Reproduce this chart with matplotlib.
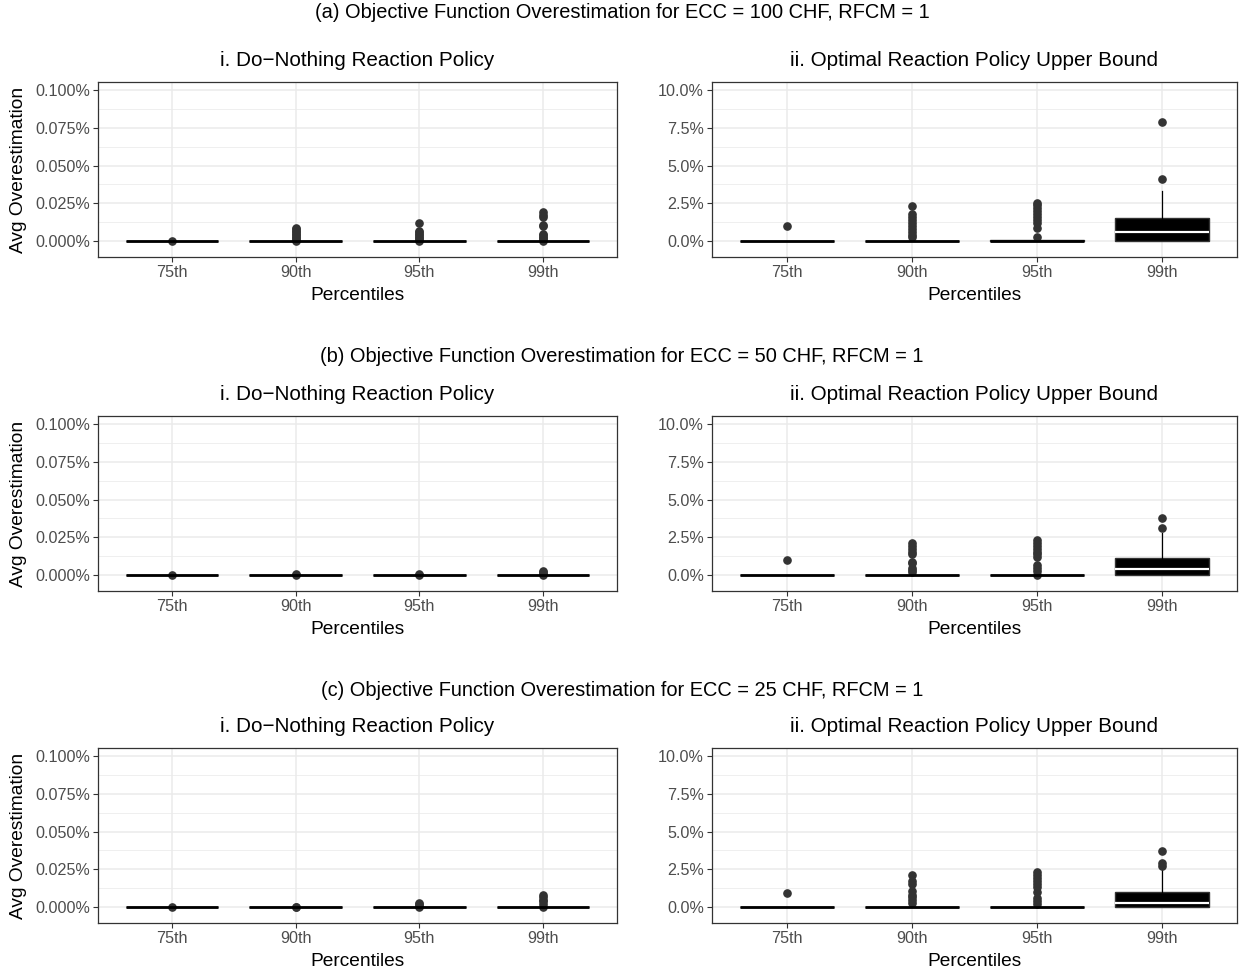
import matplotlib
matplotlib.use("Agg")
import matplotlib.pyplot as plt
import matplotlib.ticker as mticker

plt.rcParams['font.family'] = ['Liberation Sans', 'DejaVu Sans']

categories = ['75th', '90th', '95th', '99th']
row_titles = ['(a) Objective Function Overestimation for ECC = 100 CHF, RFCM = 1',
              '(b) Objective Function Overestimation for ECC = 50 CHF, RFCM = 1',
              '(c) Objective Function Overestimation for ECC = 25 CHF, RFCM = 1']
left_title = 'i. Do\u2212Nothing Reaction Policy'
right_title = 'ii. Optimal Reaction Policy Upper Bound'

# box stats in percent: q1 = 0 and lower whisker = 0 everywhere
# --- do-nothing (left) panels: boxes all collapsed at zero
dn_q3 = [[0, 0, 0, 0], [0, 0, 0, 0], [0, 0, 0, 0]]
dn_fliers_a = [[0.0], [0.0, 0.001, 0.002, 0.003, 0.004, 0.005, 0.006, 0.007, 0.008, 0.009],
               [0.0, 0.001, 0.002, 0.003, 0.004, 0.005, 0.006, 0.007, 0.012],
               [0.0, 0.001, 0.002, 0.003, 0.004, 0.005, 0.010, 0.011, 0.016, 0.017, 0.019]]
dn_fliers_b = [[0.0], [0.0, 0.0005], [0.0, 0.0005], [0.0, 0.001, 0.002, 0.003]]
dn_fliers_c = [[0.0], [0.0, 0.0003], [0.0, 0.001, 0.002, 0.003],
               [0.0, 0.002, 0.004, 0.005, 0.007, 0.008]]

# --- optimal upper bound (right) panels
ub_med_a = [0, 0, 0, 0.6]
ub_q3_a = [0, 0, 0.07, 1.55]
ub_whi_a = [0, 0, 0.07, 3.3]
ub_fliers_a = [[1.0], [0.3, 0.4, 0.6, 0.8, 1.0, 1.2, 1.4, 1.6, 1.8, 2.3],
               [0.25, 0.9, 1.2, 1.4, 1.6, 1.8, 2.0, 2.2, 2.4, 2.5],
               [4.1, 7.9]]
ub_med_b = [0, 0, 0, 0.4]
ub_q3_b = [0, 0, 0, 1.15]
ub_whi_b = [0, 0, 0, 2.8]
ub_fliers_b = [[1.0], [0.2, 0.35, 0.5, 0.8, 0.9, 1.4, 1.5, 1.7, 1.9, 2.1],
               [0.0, 0.3, 0.5, 0.7, 1.2, 1.4, 1.5, 1.7, 1.9, 2.1, 2.3],
               [3.1, 3.8]]
ub_med_c = [0, 0, 0, 0.25]
ub_q3_c = [0, 0, 0, 1.0]
ub_whi_c = [0, 0, 0, 2.5]
ub_fliers_c = [[0.95], [0.3, 0.5, 0.7, 0.8, 1.1, 1.5, 1.7, 2.1],
               [0.2, 0.4, 0.6, 1.0, 1.3, 1.5, 1.7, 1.9, 2.1, 2.3],
               [2.7, 2.9, 3.7]]

dn_fliers = [dn_fliers_a, dn_fliers_b, dn_fliers_c]
ub_med = [ub_med_a, ub_med_b, ub_med_c]
ub_q3 = [ub_q3_a, ub_q3_b, ub_q3_c]
ub_whi = [ub_whi_a, ub_whi_b, ub_whi_c]
ub_fliers = [ub_fliers_a, ub_fliers_b, ub_fliers_c]

W, H = 1244, 973
fig = plt.figure(figsize=(W / 100, H / 100), dpi=100)

row_tops = [82, 416, 748]
panel_h = 175
left_x, left_w = 98, 519
right_x, right_w = 712, 525

GRID = '#EBEBEB'
TITLE_FS = 14.4
SUB_FS = 14.9
LAB_FS = 13.8
TICK_FS = 11.6


def make_stats(meds, q3s, whis, fliers):
    out = []
    for i in range(len(categories)):
        out.append(dict(med=meds[i], q1=0, q3=q3s[i], whislo=0, whishi=whis[i],
                        fliers=fliers[i], label=categories[i]))
    return out


def draw_panel(ax, stats, ymax, step, fmt):
    pos = list(range(1, len(categories) + 1))
    res = ax.bxp(stats, positions=pos, widths=0.75, patch_artist=True, showcaps=False,
                 boxprops=dict(facecolor='black', edgecolor='#333333', linewidth=1.0),
                 whiskerprops=dict(color='black', linewidth=0.9),
                 medianprops=dict(color='white', linewidth=1.6, solid_capstyle='butt'),
                 flierprops=dict(marker='o', markerfacecolor='#333333', markeredgecolor='#333333',
                                 markersize=5.2))
    # collapsed boxes show as a thick black bar
    for s, m in zip(stats, res['medians']):
        if s['q3'] - s['q1'] < step * 0.1:
            m.set_color('black')
            m.set_linewidth(2.0)
    ax.set_xlim(0.4, len(categories) + 0.6)
    ax.set_ylim(-ymax * 0.105, ymax * 1.053)
    ax.set_xticks(pos)
    ax.set_xticklabels(categories)
    ax.yaxis.set_major_locator(mticker.MultipleLocator(step))
    ax.yaxis.set_minor_locator(mticker.MultipleLocator(step / 2))
    ax.yaxis.set_major_formatter(mticker.FuncFormatter(lambda v, p: fmt % v))
    ax.grid(True, which='major', color=GRID, linewidth=1.1, zorder=0)
    ax.grid(True, which='minor', axis='y', color=GRID, linewidth=0.55, zorder=0)
    ax.set_axisbelow(True)
    for sp in ax.spines.values():
        sp.set_color('#333333')
        sp.set_linewidth(0.9)
    ax.tick_params(axis='both', which='major', labelsize=TICK_FS, labelcolor='#4D4D4D',
                   color='#333333', length=3.6, width=0.8, pad=2.2)
    ax.tick_params(axis='both', which='minor', length=0)


def fig_ax(x, y, w, h):
    return fig.add_axes([x / W, 1 - (y + h) / H, w / W, h / H])


title_y = [12, 357, 690]
sub_y = [61, 394, 727]
for r in range(3):
    top = row_tops[r]
    axl = fig_ax(left_x, top, left_w, panel_h)
    dn_stats = make_stats([0] * 4, dn_q3[r], [0] * 4, dn_fliers[r])
    draw_panel(axl, dn_stats, 0.1, 0.025, '%.3f%%')
    axr = fig_ax(right_x, top, right_w, panel_h)
    ub_stats = make_stats(ub_med[r], ub_q3[r], ub_whi[r], ub_fliers[r])
    draw_panel(axr, ub_stats, 10, 2.5, '%.1f%%')

    fig.text(622 / W, 1 - title_y[r] / H, row_titles[r], ha='center', va='center', fontsize=TITLE_FS)
    fig.text((left_x + left_w / 2) / W, 1 - sub_y[r] / H, left_title, ha='center', va='center', fontsize=SUB_FS)
    fig.text((right_x + right_w / 2) / W, 1 - sub_y[r] / H, right_title, ha='center', va='center', fontsize=SUB_FS)
    xl_y = top + panel_h + 38
    fig.text((left_x + left_w / 2) / W, 1 - xl_y / H, 'Percentiles', ha='center', va='center', fontsize=LAB_FS)
    fig.text((right_x + right_w / 2) / W, 1 - xl_y / H, 'Percentiles', ha='center', va='center', fontsize=LAB_FS)
    fig.text(19 / W, 1 - (top + panel_h / 2) / H, 'Avg Overestimation', ha='center', va='center',
             rotation=90, fontsize=LAB_FS)

fig.savefig('out.png', dpi=100)
